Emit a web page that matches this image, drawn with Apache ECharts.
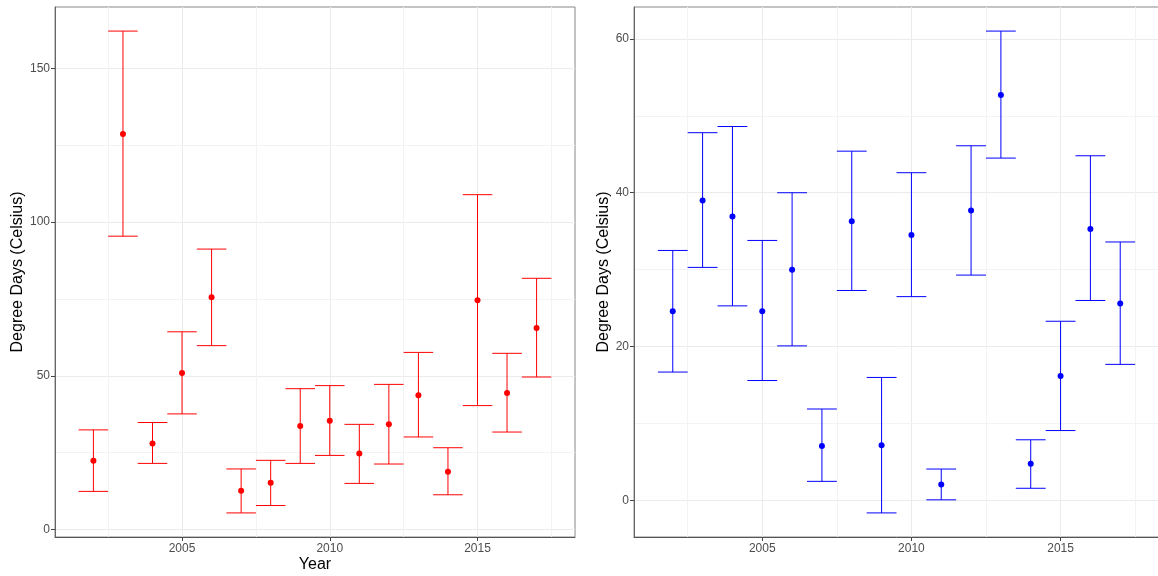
<!DOCTYPE html>
<html>
<head>
<meta charset="utf-8">
<script src="https://cdn.jsdelivr.net/npm/echarts@6/dist/echarts.min.js"></script>
<style>
html,body{margin:0;padding:0;background:#fff;}
#chart{width:1158px;height:576px;}
</style>
</head>
<body>
<div id="chart"></div>
<script>
// ---- data ----
const years = [2002,2003,2004,2005,2006,2007,2008,2009,2010,2011,2012,2013,2014,2015,2016,2017];
const leftMean = [22.4,128.6,28.0,50.9,75.5,12.6,15.2,33.7,35.4,24.7,34.2,43.7,18.8,74.6,44.4,65.5];
const leftLow  = [12.4,95.4,21.5,37.6,59.8,5.4,7.8,21.5,24.1,15.0,21.3,30.1,11.3,40.3,31.7,49.6];
const leftHigh = [32.4,162.1,34.8,64.3,91.2,19.7,22.5,45.8,46.8,34.2,47.2,57.6,26.6,108.9,57.3,81.7];
const rightMean = [24.6,39.0,36.9,24.6,30.0,7.1,36.3,7.2,34.5,2.1,37.7,52.7,4.8,16.2,35.3,25.6];
const rightLow  = [16.7,30.3,25.3,15.6,20.1,2.5,27.3,-1.6,26.5,0.1,29.3,44.5,1.6,9.1,26.0,17.7];
const rightHigh = [32.5,47.8,48.6,33.8,40.0,11.9,45.4,16.0,42.6,4.1,46.1,61.0,7.9,23.3,44.8,33.6];
const xTicks = [2005,2010,2015];
const xMinor = [2002.5,2007.5,2012.5,2017.5];
const leftYTicks = [0,50,100,150];
const leftYMinor = [25,75,125];
const rightYTicks = [0,20,40,60];
const rightYMinor = [10,30,50];
const xTitle = 'Year';
const yTitle = 'Degree Days (Celsius)';

// ---- helpers ----
const CAP = 0.5;
function expand(lo, hi){ const p = (hi - lo) * 0.05; return [lo - p, hi + p]; }
const xr = expand(years[0] - CAP, years[years.length-1] + CAP);
const lyr = expand(Math.min(...leftLow), Math.max(...leftHigh));
const ryr = expand(Math.min(...rightLow), Math.max(...rightHigh));

const FONT = 'Liberation Sans, Arial, sans-serif';
const gridColor = '#ebebeb';
const minorColor = '#f3f3f3';

function makeRender(color){
  return function(params, api){
    const x = api.value(0), lo = api.value(1), hi = api.value(2);
    const pLo = api.coord([x, lo]), pHi = api.coord([x, hi]);
    const l = api.coord([x - CAP, lo])[0], r = api.coord([x + CAP, lo])[0];
    const style = {stroke: color, lineWidth: 1, fill: null};
    return {type:'group', children:[
      {type:'line', shape:{x1:pLo[0], y1:pLo[1], x2:pHi[0], y2:pHi[1]}, style: style},
      {type:'line', shape:{x1:l, y1:pLo[1], x2:r, y2:pLo[1]}, style: style},
      {type:'line', shape:{x1:l, y1:pHi[1], x2:r, y2:pHi[1]}, style: style}
    ]};
  };
}

function xAxisCfg(gridIndex, showName){
  return {
    type:'value', gridIndex: gridIndex, min: xr[0], max: xr[1],
    name: showName ? xTitle : '', nameLocation:'middle', nameGap: 20, nameMoveOverlap:false,
    nameTextStyle:{color:'#000', fontSize:16, fontFamily:FONT},
    axisLine:{show:true, onZero:false, lineStyle:{color:'#555', width:1}},
    axisTick:{show:true, length:4, customValues: xTicks, lineStyle:{color:'#444'}},
    axisLabel:{show:true, customValues: xTicks, color:'#4d4d4d', fontSize:12, fontFamily:FONT, margin:6,
               formatter: v => String(v)},
    splitLine:{show:true, lineStyle:{color:gridColor, width:1}}
  };
}
function yAxisCfg(gridIndex, range, ticks, gap){
  return {
    type:'value', gridIndex: gridIndex, min: range[0], max: range[1],
    name: yTitle, nameLocation:'middle', nameGap: gap, nameRotate: 90,
    nameTextStyle:{color:'#000', fontSize:16, fontFamily:FONT},
    axisLine:{show:true, onZero:false, lineStyle:{color:'#666', width:1}},
    axisTick:{show:true, length:4, customValues: ticks, lineStyle:{color:'#444'}},
    axisLabel:{show:true, customValues: ticks, color:'#4d4d4d', fontSize:12, fontFamily:FONT, margin:5,
               formatter: v => String(v)},
    splitLine:{show:true, lineStyle:{color:gridColor, width:1}}
  };
}
function minorLines(yMinor){
  return {
    silent:true, symbol:'none', animation:false, z:0,
    label:{show:false},
    lineStyle:{color:minorColor, width:1, type:'solid'},
    emphasis:{disabled:true},
    data: xMinor.map(v => ({xAxis:v})).concat(yMinor.map(v => ({yAxis:v})))
  };
}

const errL = years.map((y,i) => [y, leftLow[i], leftHigh[i]]);
const errR = years.map((y,i) => [y, rightLow[i], rightHigh[i]]);
const ptL = years.map((y,i) => [y, leftMean[i]]);
const ptR = years.map((y,i) => [y, rightMean[i]]);

const chart = echarts.init(document.getElementById('chart'), null, {renderer:'canvas'});
chart.setOption({
  animation:false,
  backgroundColor:'#fff',
  grid:[
    {left:55, top:7, width:520, height:530, show:true, borderColor:'#888', borderWidth:1, backgroundColor:'transparent', containLabel:false, outerBoundsMode:'none'},
    {left:634, top:7, width:525, height:530, show:true, borderColor:'#888', borderWidth:1, backgroundColor:'transparent', containLabel:false, outerBoundsMode:'none'}
  ],
  xAxis:[xAxisCfg(0,true), xAxisCfg(1,false)],
  yAxis:[yAxisCfg(0,lyr,leftYTicks,26), yAxisCfg(1,ryr,rightYTicks,20)],
  series:[
    {type:'custom', xAxisIndex:0, yAxisIndex:0, renderItem: makeRender('#ff0000'), data: errL, clip:false, silent:true},
    {type:'scatter', xAxisIndex:0, yAxisIndex:0, data: ptL, symbolSize:6, itemStyle:{color:'#ff0000', opacity:1}, silent:true, markLine: minorLines(leftYMinor)},
    {type:'custom', xAxisIndex:1, yAxisIndex:1, renderItem: makeRender('#0000ff'), data: errR, clip:false, silent:true},
    {type:'scatter', xAxisIndex:1, yAxisIndex:1, data: ptR, symbolSize:6, itemStyle:{color:'#0000ff', opacity:1}, silent:true, markLine: minorLines(rightYMinor)}
  ]
});
</script>
</body>
</html>
